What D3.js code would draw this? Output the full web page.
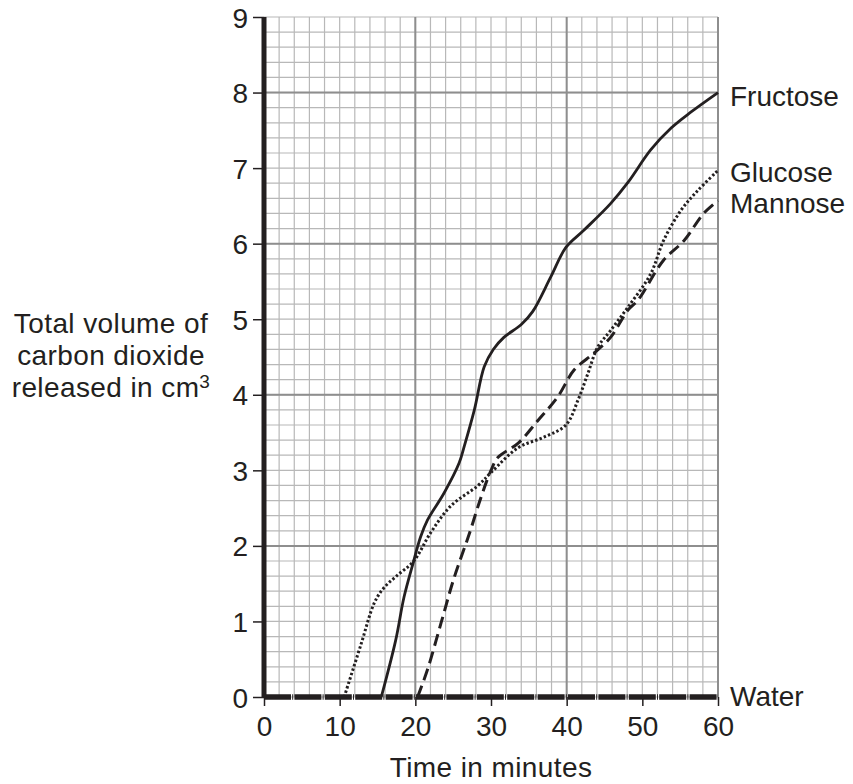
<!DOCTYPE html>
<html>
  <head>
  <title>CO2 released</title>
  <style>
    body, html {
      margin: 0;
      padding: 0;
      background: #fff;
    }
    text {
      font-family: "Liberation Sans", Arial, sans-serif;
      fill: #231f20;
    }
  </style>
  </head>
  <body>

  <svg id="svg" width="853" height="784"></svg>

  <script src="https://d3js.org/d3.v7.min.js"></script>
  <script>
    // values: [time in minutes, volume in cm3]
    const fructose = [[15.5, 0], [17.4, 0.75], [18.5, 1.32], [19.7, 1.77], [20.7, 2.12], [21.6, 2.34], [23.8, 2.7],
      [25.8, 3.1], [26.5, 3.33], [27.8, 3.8], [29.1, 4.37], [30.3, 4.6], [31.7, 4.76], [34, 4.93], [35.5, 5.1],
      [37.9, 5.56], [39.9, 5.95], [42.3, 6.18], [45.8, 6.53], [48.1, 6.81], [51.1, 7.24], [53.8, 7.53],
      [56.4, 7.74], [60, 8]]
    const glucose = [[10.6, 0], [12.8, 0.69], [14.6, 1.25], [15.8, 1.44], [17.5, 1.6], [19.8, 1.8], [22, 2.17],
      [24.7, 2.53], [28.3, 2.8], [30, 2.97], [33.6, 3.3], [37, 3.44], [39.9, 3.6], [41.5, 3.93], [42.8, 4.28],
      [44.1, 4.63], [45.8, 4.85], [48.1, 5.16], [51.1, 5.6], [52.8, 6.04], [55.1, 6.44], [57.3, 6.7], [60, 6.97]]
    const mannose = [[20.3, 0], [21.6, 0.36], [23.4, 0.98], [25.1, 1.57], [27.1, 2.15], [28.7, 2.65], [30, 3.0],
      [30.9, 3.17], [33.6, 3.36], [36.2, 3.66], [38.8, 3.97], [41, 4.33], [43.6, 4.55], [45.8, 4.76],
      [48.1, 5.12], [49.4, 5.25], [52.8, 5.78], [55.5, 6.04], [58.1, 6.4], [60, 6.57]]
    const water = [[0, 0], [60, 0]]

    const seriesNames = ['Fructose', 'Glucose', 'Mannose', 'Water']
    const xTicks = [0, 10, 20, 30, 40, 50, 60]
    const yTicks = [0, 1, 2, 3, 4, 5, 6, 7, 8, 9]

    const margin = { top: 17, right: 135, bottom: 87, left: 264 }
    const width = 853 - (margin.left + margin.right)
    const height = 784 - (margin.top + margin.bottom)

    const xscale = d3.scaleLinear()
      .domain([0, 60])
      .range([margin.left, margin.left + width])
    const yscale = d3.scaleLinear()
      .domain([0, 9])
      .range([margin.top + height, margin.top])

    const svg = d3.select('#svg')

    // graph paper
    const grid = svg.append('g')
    grid.selectAll('.vminor')
      .data(d3.range(0, 61, 2))
      .enter()
      .append('line')
      .attr('x1', d => xscale(d)).attr('x2', d => xscale(d))
      .attr('y1', yscale(0)).attr('y2', yscale(9))
      .attr('stroke', '#b8b8b8').attr('stroke-width', 1.2)
    grid.selectAll('.hminor')
      .data(d3.range(0, 46).map(i => i * 0.2))
      .enter()
      .append('line')
      .attr('x1', xscale(0)).attr('x2', xscale(60))
      .attr('y1', d => yscale(d)).attr('y2', d => yscale(d))
      .attr('stroke', '#b8b8b8').attr('stroke-width', 1.2)
    grid.selectAll('.vmajor')
      .data([20, 40, 60])
      .enter()
      .append('line')
      .attr('x1', d => xscale(d)).attr('x2', d => xscale(d))
      .attr('y1', yscale(0)).attr('y2', yscale(9))
      .attr('stroke', '#8e8e8e').attr('stroke-width', 2)
    grid.selectAll('.hmajor')
      .data([2, 4, 6, 8])
      .enter()
      .append('line')
      .attr('x1', xscale(0)).attr('x2', xscale(60))
      .attr('y1', d => yscale(d)).attr('y2', d => yscale(d))
      .attr('stroke', '#8e8e8e').attr('stroke-width', 2)

    // axes
    const leftAxis = d3.axisLeft(yscale).tickValues(yTicks).tickSize(11).tickPadding(5).tickSizeOuter(0)
    const bottomAxis = d3.axisBottom(xscale).tickValues(xTicks).tickSize(9).tickPadding(6).tickSizeOuter(0)

    const gy = svg.append('g')
      .attr('transform', `translate(${margin.left},0)`)
      .call(leftAxis)
    const gx = svg.append('g')
      .attr('transform', `translate(0,${margin.top + height})`)
      .call(bottomAxis)

    for (const g of [gx, gy]) {
      g.select('.domain').remove()
      g.selectAll('line').attr('stroke', '#231f20').attr('stroke-width', 1.5)
      g.selectAll('text')
        .attr('font-size', 28)
        .attr('font-family', '"Liberation Sans", Arial, sans-serif')
        .attr('fill', '#231f20')
    }
    gy.selectAll('text').attr('dy', '0.36em')
    gx.selectAll('text').attr('dy', '0.86em')

    svg.append('line')
      .attr('x1', xscale(0)).attr('x2', xscale(0))
      .attr('y1', yscale(0)).attr('y2', yscale(9))
      .attr('stroke', '#231f20').attr('stroke-width', 5)

    // curves
    const line = d3.line()
      .x(d => xscale(d[0]))
      .y(d => yscale(d[1]))
      .curve(d3.curveCatmullRom.alpha(0.5))

    const styles = {
      Fructose: { data: fructose, dash: null, w: 2.8 },
      Glucose: { data: glucose, dash: '2.4,2.2', w: 3 },
      Mannose: { data: mannose, dash: '12,6', w: 3 },
      Water: { data: water, dash: '27,1.2,1,1.2', w: 5.5 }
    }

    svg.append('g')
      .selectAll('path')
      .data(seriesNames)
      .enter()
      .append('path')
      .attr('d', d => line(styles[d].data))
      .attr('fill', 'none')
      .attr('stroke', '#231f20')
      .attr('stroke-width', d => styles[d].w)
      .attr('stroke-dasharray', d => styles[d].dash)

    // series labels
    const labelY = { Fructose: 106, Glucose: 182, Mannose: 213, Water: 706 }
    svg.append('g')
      .selectAll('text')
      .data(seriesNames)
      .enter()
      .append('text')
      .attr('x', 730)
      .attr('y', d => labelY[d])
      .attr('font-size', 28)
      .text(d => d)

    // axis titles
    svg.append('text')
      .attr('x', xscale(30))
      .attr('y', 777)
      .attr('text-anchor', 'middle')
      .attr('font-size', 28)
      .attr('letter-spacing', 0.4)
      .text('Time in minutes')

    const ylab = svg.append('text')
      .attr('text-anchor', 'middle')
      .attr('font-size', 28)
      .attr('letter-spacing', 0.4)
    ylab.append('tspan').attr('x', 111).attr('y', 333).text('Total volume of')
    ylab.append('tspan').attr('x', 111).attr('y', 365).text('carbon dioxide')
    const l3 = ylab.append('tspan').attr('x', 111).attr('y', 397)
    l3.append('tspan').text('released in cm')
    l3.append('tspan').attr('font-size', 19).attr('dy', -9).text('3')
  </script>
  </body>
</html>
